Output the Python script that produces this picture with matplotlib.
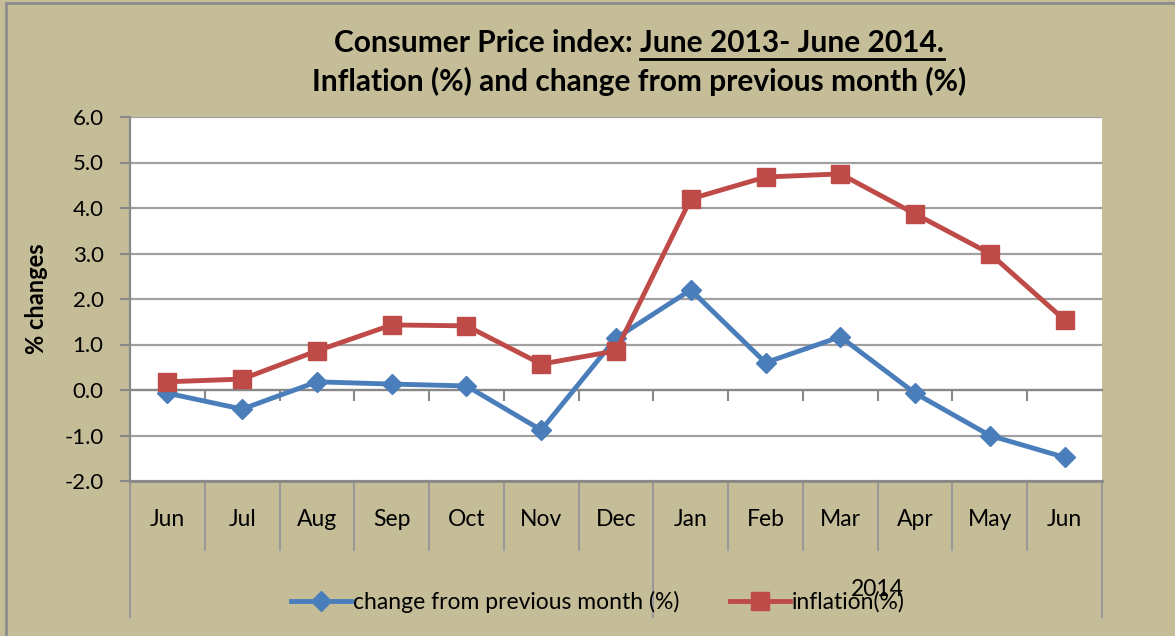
import numpy as np
import matplotlib.pyplot as plt
from matplotlib.lines import Line2D

plt.rcParams['font.family'] = ['Lato', 'DejaVu Sans']

months = ["Jun", "Jul", "Aug", "Sep", "Oct", "Nov", "Dec",
          "Jan", "Feb", "Mar", "Apr", "May", "Jun"]
change_prev = [-0.07, -0.42, 0.18, 0.13, 0.09, -0.88, 1.14,
               2.20, 0.60, 1.17, -0.07, -1.00, -1.48]
inflation = [0.18, 0.24, 0.86, 1.43, 1.41, 0.57, 0.86,
             4.20, 4.68, 4.75, 3.87, 3.00, 1.54]
yticks = np.arange(-2.0, 6.01, 1.0)

BG = "#C5BD98"
GRID = "#A0A0A0"
BLUE = "#4A7EBB"
RED = "#BE4B48"

W, H = 1175, 636
fig = plt.figure(figsize=(W / 100, H / 100), dpi=100, facecolor=BG)

# plot area in pixel coords
x0, x1, ytop, ybot = 130, 1102, 117, 481
ax = fig.add_axes([x0 / W, 1 - ybot / H, (x1 - x0) / W, (ybot - ytop) / H])
ax.set_facecolor("white")
ax.set_xlim(-0.5, len(months) - 0.5)
ax.set_ylim(-2, 6)

x = np.arange(len(months))
ax.plot(x, change_prev, color=BLUE, lw=3.5, marker="D", ms=10,
        markeredgecolor=BLUE, zorder=5, clip_on=False)
ax.plot(x, inflation, color=RED, lw=3.5, marker="s", ms=13,
        markeredgecolor=RED, zorder=6, clip_on=False)

ax.set_yticks(yticks)
ax.set_yticklabels([f"{v:.1f}" for v in yticks], fontsize=16)
ax.yaxis.grid(True, color=GRID, lw=1.6)
ax.set_axisbelow(True)
ax.tick_params(axis="y", length=7, width=1.5, color="#888888", pad=12)

# x axis crosses at 0 with ticks on category boundaries
ax.spines["bottom"].set_position(("data", 0))
ax.spines["bottom"].set_color("#888888")
ax.spines["bottom"].set_linewidth(1.6)
ax.set_xticks(np.arange(0.5, len(months) - 1, 1.0))
ax.set_xticklabels([])
ax.tick_params(axis="x", length=8, width=1.5, color="#888888", direction="out")
ax.spines["top"].set_visible(False)
ax.spines["right"].set_visible(False)
ax.spines["left"].set_color("#888888")
ax.spines["left"].set_linewidth(1.6)
ax.axhline(-2, color="#888888", lw=2, zorder=3, clip_on=False)

# category labels under the plot area
trans = ax.get_xaxis_transform()
ph = ybot - ytop
lab_y = -(520 - ybot) / ph
sep_y = -(550 - ybot) / ph
outer_y = -(617 - ybot) / ph
for i, m in enumerate(months):
    ax.text(i, lab_y, m, transform=trans, ha="center", va="center", fontsize=16.5)
for b in np.arange(-0.5, len(months), 1.0):
    bottom = outer_y if b in (-0.5, len(months) - 0.5, 6.5) else sep_y
    ax.plot([b, b], [0, bottom], transform=trans, color="#999999", lw=1.5,
            clip_on=False)
# year group label (sits on the legend, as in the original)
ax.text(9.5, -(590 - ybot) / ph, "2014", transform=trans, ha="center",
        va="center", fontsize=16.5)

ax.set_ylabel("% changes", fontsize=17, fontweight="bold", labelpad=12)

# title
title1_pre = "Consumer Price index: "
title1_ul = "June 2013- June 2014."
tsize = 21.5
tx = 639 / W
t1 = fig.text(tx, 1 - 43 / H, title1_pre + title1_ul, ha="center",
              va="center", fontsize=tsize, fontweight="bold")
fig.text(tx, 1 - 81 / H, "Inflation (%) and change from previous month (%)",
         ha="center", va="center", fontsize=tsize, fontweight="bold")

# underline the date range: measure text extents
fig.canvas.draw()
r = fig.canvas.get_renderer()
full_bb = t1.get_window_extent(r)
tmp = fig.text(0, 0, title1_ul, fontsize=tsize, fontweight="bold")
ul_w = tmp.get_window_extent(r).width
tmp.remove()
ul_x1 = full_bb.x1
ul_x0 = ul_x1 - ul_w
fig.add_artist(Line2D([ul_x0 / W, ul_x1 / W], [1 - 59 / H, 1 - 59 / H],
                      color="black", lw=2))

# legend
handles = [
    Line2D([], [], color=BLUE, lw=3.5, marker="D", ms=10, label="change from previous month (%)"),
    Line2D([], [], color=RED, lw=3.5, marker="s", ms=13, label="inflation(%)"),
]
fig.legend(handles=handles, loc="center", bbox_to_anchor=(598 / W, 1 - 602 / H),
           ncol=2, frameon=False, fontsize=16.5, handlelength=2.6,
           handletextpad=0.1, columnspacing=2.2)

# outer chart border (left and top)
fig.add_artist(Line2D([6 / W, 6 / W], [0, 1 - 3 / H], color="#8C8C8C", lw=2))
fig.add_artist(Line2D([6 / W, 1], [1 - 3 / H, 1 - 3 / H], color="#8C8C8C", lw=2))

fig.savefig("out.png", dpi=100, facecolor=BG)
